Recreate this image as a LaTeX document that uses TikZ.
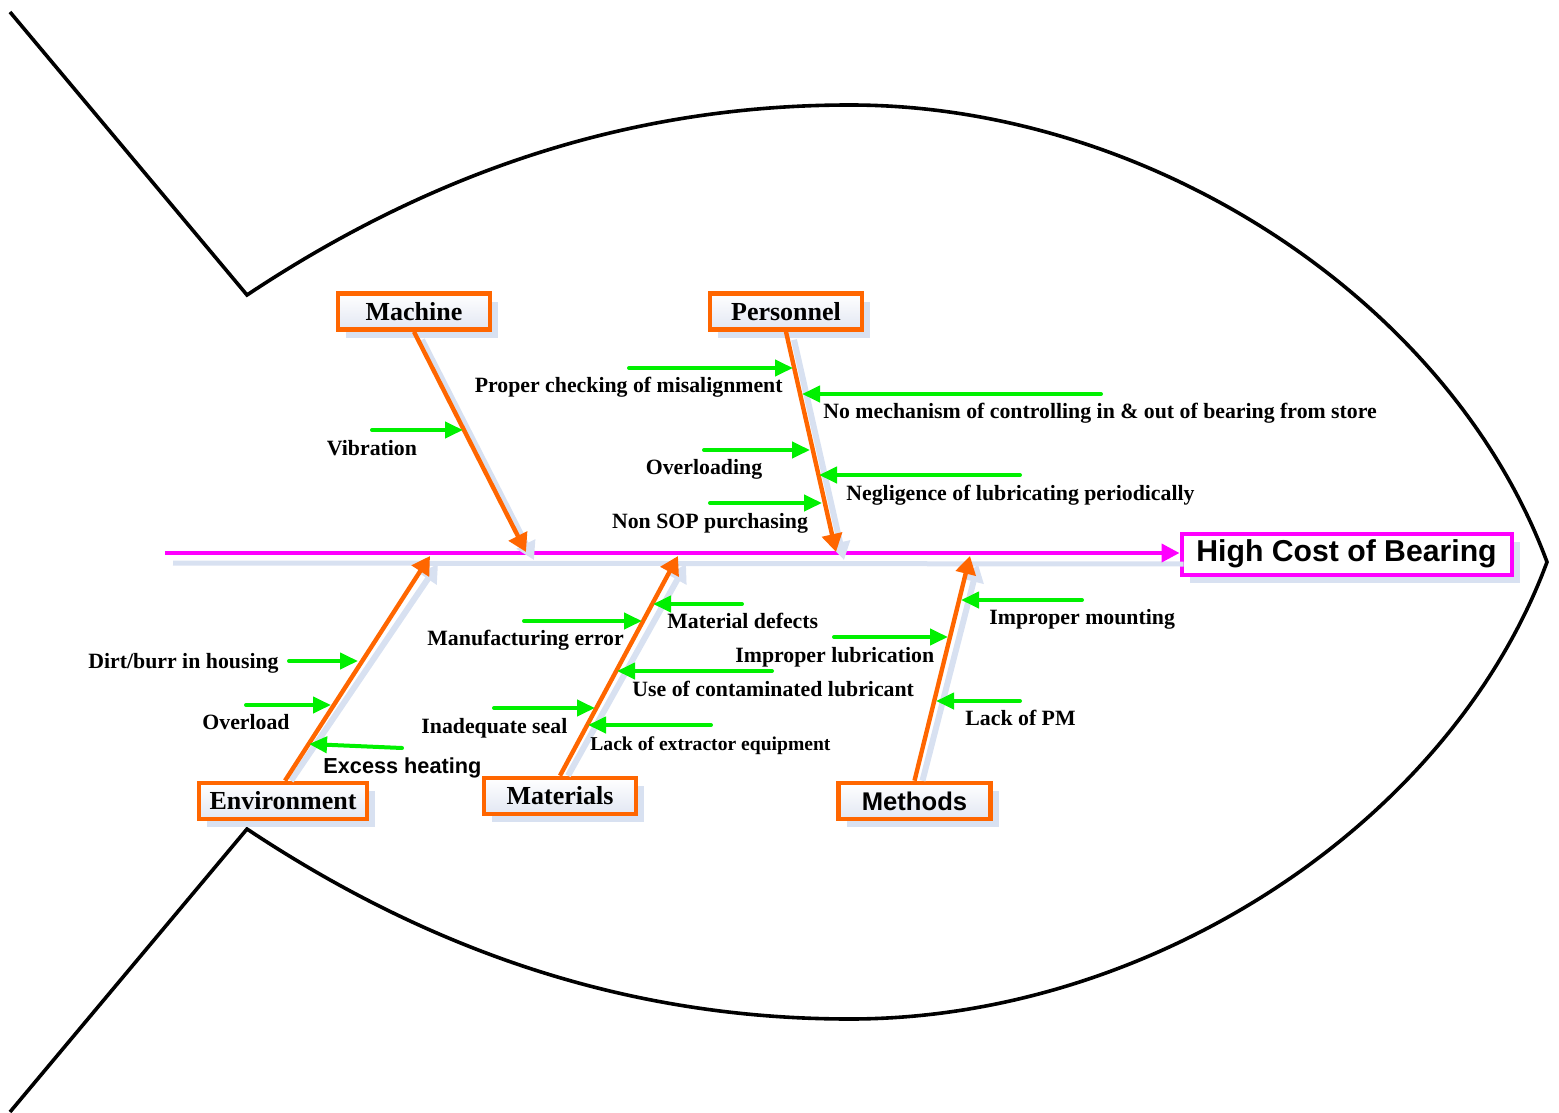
\documentclass[tikz,border=0pt]{standalone}
\usepackage{fontspec}
\setmainfont{Liberation Serif}
\setsansfont{Liberation Sans}
\usetikzlibrary{arrows.meta,shadows}

\definecolor{bone}{HTML}{FF6600}
\definecolor{cause}{HTML}{00F000}
\definecolor{spine}{HTML}{FF00FF}
\definecolor{shade}{HTML}{D8E1F1}
\definecolor{boxbottom}{HTML}{E2E7F3}

\begin{document}
\begin{tikzpicture}[x=0.5pt,y=-0.5pt,
  fish/.style={line width=1.8pt, line join=miter},
  catbox/.style={draw=bone, line width=2.3pt, top color=white, bottom color=boxbottom,
    minimum height=18pt, inner sep=0pt, font=\fontsize{13}{15}\selectfont\bfseries,
    drop shadow={shadow xshift=4pt, shadow yshift=-4pt, fill=shade, opacity=1}},
  headbox/.style={draw=spine, line width=2pt, fill=white, minimum width=165pt,
    minimum height=20.5pt, inner sep=0pt, font=\sffamily\fontsize{15.1}{17}\selectfont\bfseries,
    drop shadow={shadow xshift=4pt, shadow yshift=-4pt, fill=shade, opacity=1}},
  bonearrow/.style={draw=bone, line width=2.2pt, -{Triangle[length=9pt,width=10pt]}},
  boneshadow/.style={draw=shade, line width=3pt, -{Triangle[length=9pt,width=10pt]}},
  spinearrow/.style={draw=spine, line width=2pt, -{Triangle[length=9pt,width=9pt]}},
  causearrow/.style={draw=cause, line width=2pt, line cap=round, -{Triangle[length=9pt,width=8pt]}},
  lbl/.style={inner sep=0pt, yshift=-1pt, text height=7.4pt, text depth=2.2pt, font=\fontsize{10.9}{13}\selectfont\bfseries},
  smalllbl/.style={lbl, font=\fontsize{9.8}{12}\selectfont\bfseries},
  sanslbl/.style={lbl, font=\sffamily\fontsize{10.85}{13}\selectfont\bfseries},
]
\useasboundingbox (0,0) rectangle (1559,1113);

% fish outline
\draw[fish] (10,12) -- (247,295)
  .. controls (450,160) and (650,105) .. (850,105)
  .. controls (1150,105) and (1450,300) .. (1547,562)
  .. controls (1450,824) and (1150,1019) .. (850,1019)
  .. controls (650,1019) and (450,964) .. (247,829)
  -- (10,1112);

% effect box and spine
\node[headbox] (head) at (1346.5,554) {High Cost of Bearing};
\coordinate (spineL) at (165,553);
\draw[draw=shade, line width=2.5pt] ([shift={(8,10)}]spineL) -- ([shift={(4,10)}]head.west);
\draw[spinearrow] (spineL) -- (head.west |- spineL);

% category boxes
\node[catbox, minimum width=76pt] (mach) at (414,311.5) {Machine};
\node[catbox, minimum width=76pt] (pers) at (786,311.5) {Personnel};
\node[catbox, minimum width=84pt] (env) at (283,801) {Environment};
\node[catbox, minimum width=76pt] (mat) at (560,796) {Materials};
\node[catbox, minimum width=76pt, font=\sffamily\fontsize{12.8}{15}\selectfont\bfseries] (meth) at (914.5,801) {Methods};

% bone ends on the spine
\coordinate (machE) at (526,552);
\coordinate (persE) at (836,552);
\coordinate (envE) at (430,556);
\coordinate (matE) at (678,556);
\coordinate (methE) at (970,556);

% bone shadows
\draw[boneshadow] ([shift={(8,8)}]mach.south) -- ([shift={(8,8)}]machE);
\draw[boneshadow] ([shift={(8,8)}]pers.south) -- ([shift={(8,8)}]persE);
\draw[boneshadow] ([shift={(8,0)}]env.north) -- ([shift={(8,8)}]envE);
\draw[boneshadow] ([shift={(8,0)}]mat.north) -- ([shift={(8,8)}]matE);
\draw[boneshadow] ([shift={(8,0)}]meth.north) -- ([shift={(8,8)}]methE);

% bones
\draw[bonearrow] (mach.south) -- (machE);
\draw[bonearrow] (pers.south) -- (persE);
\draw[bonearrow] ([xshift=1pt]env.north) -- (envE);
\draw[bonearrow] (mat.north) -- (matE);
\draw[bonearrow] (meth.north) -- (methE);

% Machine causes
\coordinate (a1s) at (372,430); \coordinate (a1e) at (463,430);
\draw[causearrow] (a1s) -- (a1e);
\node[lbl] (vib) at (372,448) {Vibration};

% Personnel causes
\coordinate (p1s) at (629,368); \coordinate (p1e) at (793,368);
\coordinate (p2s) at (1101,394); \coordinate (p2e) at (802,394);
\coordinate (p3s) at (704,450); \coordinate (p3e) at (810,450);
\coordinate (p4s) at (1020,475); \coordinate (p4e) at (819,475);
\coordinate (p5s) at (710,503); \coordinate (p5e) at (822,503);
\draw[causearrow] (p1s) -- (p1e);
\draw[causearrow] (p2s) -- (p2e);
\draw[causearrow] (p3s) -- (p3e);
\draw[causearrow] (p4s) -- (p4e);
\draw[causearrow] (p5s) -- (p5e);
\node[lbl, anchor=east] (chk) at (783,385) {Proper checking of misalignment};
\node[lbl, anchor=west] (mech) at (823,411) {No mechanism of controlling in \& out of bearing from store};
\node[lbl] (ovl) at (704,467) {Overloading};
\node[lbl, anchor=west] (negl) at (846,493) {Negligence of lubricating periodically};
\node[lbl] (sop) at (710,521) {Non SOP purchasing};

% Environment causes
\coordinate (e1s) at (289,661); \coordinate (e1e) at (358,661);
\coordinate (e2s) at (246,705); \coordinate (e2e) at (331,705);
\coordinate (e3s) at (402,748); \coordinate (e3e) at (309,744);
\draw[causearrow] (e1s) -- (e1e);
\draw[causearrow] (e2s) -- (e2e);
\draw[causearrow] (e3s) -- (e3e);
\node[lbl, anchor=west] (dirt) at (88,661) {Dirt/burr in housing};
\node[lbl] (ovld) at (246,722) {Overload};
\node[sanslbl, anchor=west] (heat) at (323,766) {Excess heating};

% Materials causes
\coordinate (m1s) at (524,621); \coordinate (m1e) at (642,621);
\coordinate (m2s) at (742,604); \coordinate (m2e) at (653,604);
\coordinate (m3s) at (772,671); \coordinate (m3e) at (617,671);
\coordinate (m4s) at (494,708); \coordinate (m4e) at (595,708);
\coordinate (m5s) at (711,725); \coordinate (m5e) at (588,725);
\draw[causearrow] (m1s) -- (m1e);
\draw[causearrow] (m2s) -- (m2e);
\draw[causearrow] (m3s) -- (m3e);
\draw[causearrow] (m4s) -- (m4e);
\draw[causearrow] (m5s) -- (m5e);
\node[lbl, anchor=west] (manu) at (427,638) {Manufacturing error};
\node[lbl, anchor=west] (mdef) at (667,621) {Material defects};
\node[lbl, anchor=west] (cont) at (632,689) {Use of contaminated lubricant};
\node[lbl, anchor=west] (seal) at (421,726) {Inadequate seal};
\node[smalllbl, anchor=west] (extr) at (590,743) {Lack of extractor equipment};

% Methods causes
\coordinate (t1s) at (1082,600); \coordinate (t1e) at (961,600);
\coordinate (t2s) at (834,637); \coordinate (t2e) at (948,637);
\coordinate (t3s) at (1020,701); \coordinate (t3e) at (936,701);
\draw[causearrow] (t1s) -- (t1e);
\draw[causearrow] (t2s) -- (t2e);
\draw[causearrow] (t3s) -- (t3e);
\node[lbl, anchor=west] (mount) at (989,617) {Improper mounting};
\node[lbl, anchor=west] (lub) at (735,655) {Improper lubrication};
\node[lbl, anchor=west] (pm) at (965,718) {Lack of PM};
\end{tikzpicture}
\end{document}
